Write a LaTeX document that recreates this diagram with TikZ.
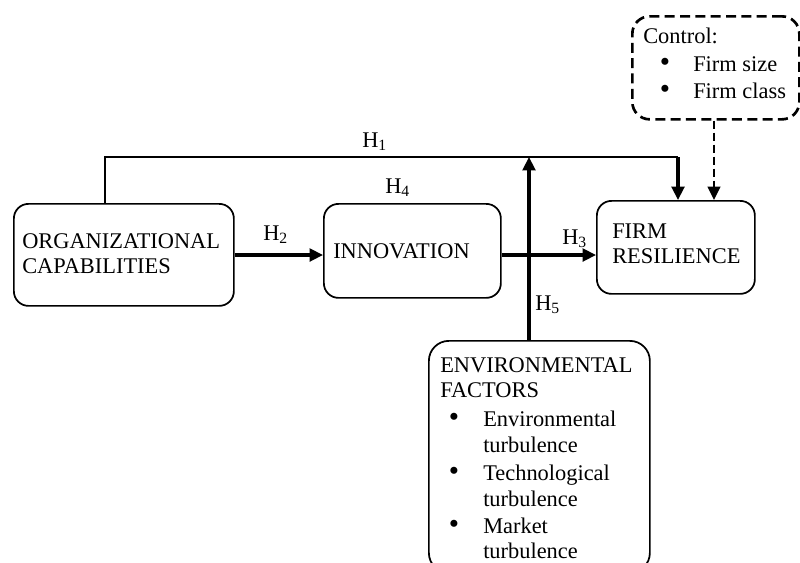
\documentclass[tikz,border=0pt]{standalone}
\usepackage{fontspec}
\setmainfont{Liberation Serif}
\usetikzlibrary{arrows.meta}
\begin{document}
\begin{tikzpicture}[x=0.75pt,y=-0.75pt,
  box/.style={draw, line width=1.3pt, rounded corners=11pt, anchor=north west, inner sep=0pt},
  dbox/.style={draw, line width=2pt, dash pattern=on 7.5pt off 4pt, rounded corners=13pt, anchor=north west, inner sep=0pt},
  txt/.style={inner sep=0pt, anchor=base west, font=\fontsize{16.8}{20}\selectfont},
  lab/.style={inner sep=0pt, anchor=base west, font=\fontsize{16.8}{20}\selectfont},
  bul/.style={inner sep=0pt, anchor=center, font=\fontsize{22}{22}\selectfont},
  arr/.style={line width=2.3pt, -{Triangle[length=10pt,width=9.5pt]}},
  thinline/.style={line width=0.8pt},
  darr/.style={line width=1.6pt, dash pattern=on 6pt off 3pt, -{Triangle[length=10pt,width=9.5pt]}}
]
\useasboundingbox (0,0) rectangle (800,562);

% boxes
\node[box, minimum width=165pt, minimum height=76.5pt] (org) at (13,203) {};
\node[box, minimum width=132.75pt, minimum height=70.5pt] (inno) at (323,203) {};
\node[box, minimum width=118.5pt, minimum height=69.75pt] (firm) at (596,200) {};
\node[dbox, minimum width=125.25pt, minimum height=77.25pt] (ctrl) at (631,15) {};
\node[box, rounded corners=15pt, minimum width=165.75pt, minimum height=174pt] (env) at (428,340) {};

% texts
\node[txt] (t1) at (22,248) {ORGANIZATIONAL};
\node[txt] (t2) at (22,273) {CAPABILITIES};
\node[txt] (t3) at (333,258) {INNOVATION};
\node[txt] (t4) at (612,238) {FIRM};
\node[txt] (t5) at (612,263) {RESILIENCE};
\node[txt] (c1) at (643,43) {Control:};
\node[bul] (cb1) at (665,65) {\textbullet};
\node[txt] (c2) at (693,71) {Firm size};
\node[bul] (cb2) at (665,92) {\textbullet};
\node[txt] (c3) at (693,98) {Firm class};
\node[txt] (e1) at (440,372) {ENVIRONMENTAL};
\node[txt] (e2) at (440,397) {FACTORS};
\node[bul] (eb1) at (454,420) {\textbullet};
\node[txt] (e3) at (483,426) {Environmental};
\node[txt] (e4) at (483,452) {turbulence};
\node[bul] (eb2) at (454,474) {\textbullet};
\node[txt] (e5) at (483,480) {Technological};
\node[txt] (e6) at (483,506) {turbulence};
\node[bul] (eb3) at (454,527) {\textbullet};
\node[txt] (e7) at (483,533) {Market};
\node[txt] (e8) at (483,558) {turbulence};

% labels
\node[lab] (H1) at (362,147) {H\textsubscript{1}};
\node[lab] (H4) at (385,193) {H\textsubscript{4}};
\node[lab] (H2) at (263,240) {H\textsubscript{2}};
\node[lab] (H3) at (562,244) {H\textsubscript{3}};
\node[lab] (H5) at (535,310) {H\textsubscript{5}};

% connectors
\coordinate (h1a) at (105,157);
\coordinate (h1b) at (678,157);
\coordinate (h5t) at (529,157);
\coordinate (cx) at (714,0);
\coordinate (ay) at (0,255);
\draw[thinline] (org.north -| h1a) -- (h1a) -- (h1b);
\draw[arr] (h1b) -- (h1b |- firm.north);
\draw[arr] (env.north -| h5t) -- (h5t);
\draw[arr] (org.east |- ay) -- (inno.west |- ay);
\draw[arr] (inno.east |- ay) -- (firm.west |- ay);
\draw[darr] (ctrl.south -| cx) -- (firm.north -| cx);
\end{tikzpicture}
\end{document}
